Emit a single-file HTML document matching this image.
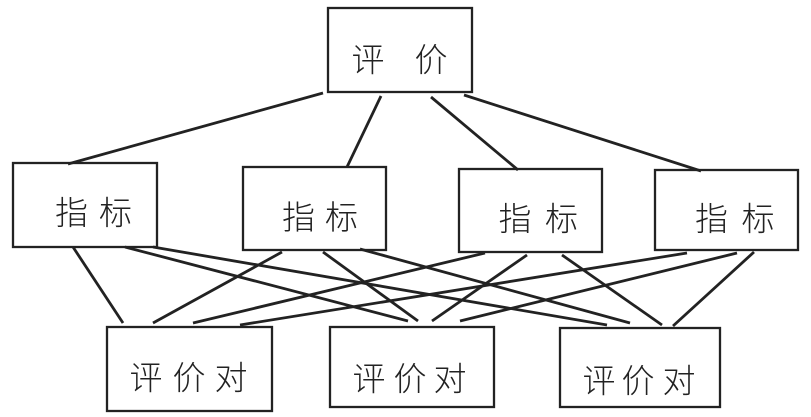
<!DOCTYPE html>
<html>
<head>
<meta charset="utf-8">
<style>
  html, body { margin:0; padding:0; background:#fff; }
  body { width:811px; height:417px; overflow:hidden; }
  svg { display:block; }
  text { font-family: "Liberation Sans", "Noto Sans CJK SC", "WenQuanYi Zen Hei", sans-serif; font-size:33px; fill:#222; font-weight:300; }
</style>
</head>
<body>
<svg width="811" height="417" viewBox="0 0 811 417" xmlns="http://www.w3.org/2000/svg">
  <g fill="none" stroke="#222" stroke-width="2.3">
    <!-- top box -->
    <rect x="328" y="8" width="144" height="84"/>
    <!-- middle boxes -->
    <rect x="13" y="163" width="144" height="84"/>
    <rect x="243" y="167" width="143" height="83"/>
    <rect x="459" y="169" width="143" height="83"/>
    <rect x="655" y="170" width="143" height="80"/>
    <!-- bottom boxes -->
    <rect x="107" y="327" width="165" height="84"/>
    <rect x="330" y="327" width="164" height="80"/>
    <rect x="560" y="328" width="160" height="79"/>
  </g>
  <g stroke="#222" stroke-width="2.8" stroke-linecap="butt">
    <!-- top to middle -->
    <line x1="323" y1="93" x2="68" y2="164"/>
    <line x1="381" y1="96" x2="347" y2="167"/>
    <line x1="431" y1="97" x2="518" y2="170"/>
    <line x1="464" y1="95" x2="701" y2="171"/>
    <!-- box1 -->
    <line x1="73" y1="247" x2="123" y2="323"/>
    <line x1="125" y1="247" x2="408" y2="321"/>
    <line x1="153" y1="247" x2="607" y2="325"/>
    <!-- box2 -->
    <line x1="282" y1="252" x2="153" y2="323"/>
    <line x1="323" y1="252" x2="418" y2="321"/>
    <line x1="360" y1="249" x2="630" y2="323"/>
    <!-- box3 -->
    <line x1="485" y1="253" x2="193" y2="323"/>
    <line x1="527" y1="255" x2="432" y2="321"/>
    <line x1="562" y1="255" x2="662" y2="325"/>
    <!-- box4 -->
    <line x1="687" y1="253" x2="240" y2="325"/>
    <line x1="737" y1="253" x2="460" y2="321"/>
    <line x1="754" y1="252" x2="673" y2="326"/>
  </g>
  <g text-anchor="middle" dominant-baseline="central">
    <text x="368" y="60">评</text>
    <text x="431" y="60">价</text>

    <text x="71.5" y="213">指</text>
    <text x="115.5" y="213">标</text>
    <text x="298.5" y="217.5">指</text>
    <text x="341.5" y="217.5">标</text>
    <text x="515" y="219">指</text>
    <text x="561.5" y="219">标</text>
    <text x="711.5" y="219">指</text>
    <text x="758" y="219">标</text>

    <text x="146" y="378">评</text>
    <text x="189" y="378">价</text>
    <text x="231" y="378">对</text>
    <text x="369" y="379">评</text>
    <text x="410" y="379">价</text>
    <text x="450" y="379">对</text>
    <text x="599" y="381">评</text>
    <text x="638" y="381">价</text>
    <text x="679" y="381">对</text>
  </g>
</svg>
</body>
</html>
